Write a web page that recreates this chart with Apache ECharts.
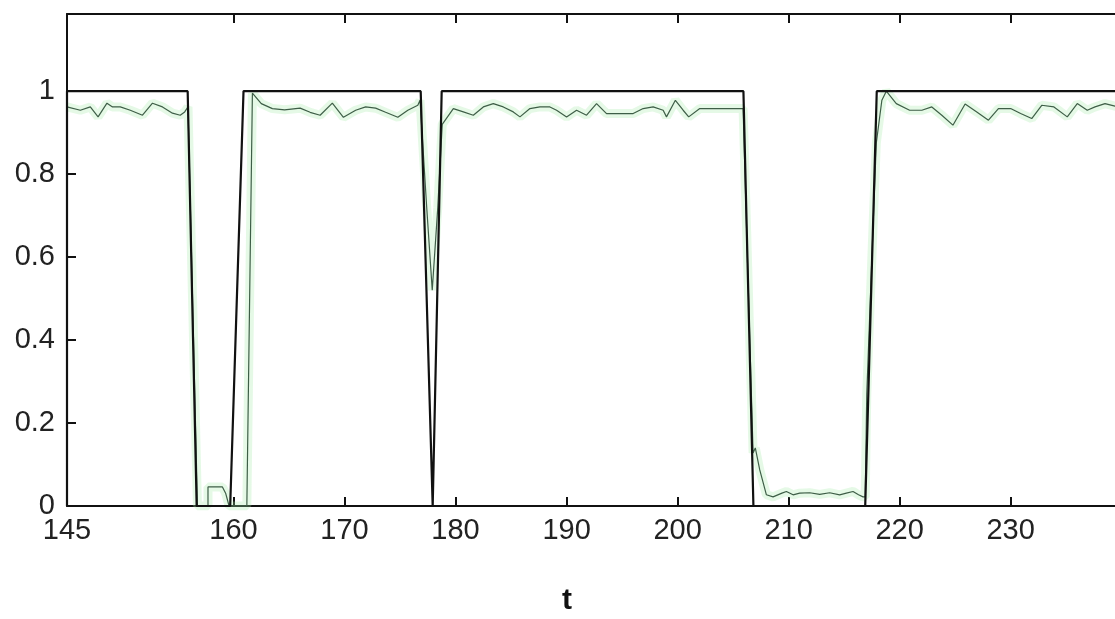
<!DOCTYPE html>
<html>
<head>
<meta charset="utf-8">
<script src="https://cdn.jsdelivr.net/npm/echarts@6/dist/echarts.min.js"></script>
<style>
html,body{margin:0;padding:0;background:#fff;}
#chart{width:1115px;height:619px;}
</style>
</head>
<body>
<div id="chart"></div>
<script>
// ---- data ----
const blackT = [145, 145, 155.87, 156.68, 159.7, 160.9, 176.86, 177.94, 178.0, 178.75, 205.93, 206.83, 216.9, 217.94, 240];
const blackV = [0, 1, 1, 0, 0, 1, 1, 0, 0, 1, 1, 0, 0, 1, 1];

const greenT = [145.0,146.2,147.1,147.8,148.6,149.1,149.8,150.7,151.8,152.7,153.6,154.5,155.2,155.6,155.9,
  156.75,157.7,157.7,159.0,159.3,159.6,161.2,161.7,162.5,163.5,164.6,166.0,166.9,167.8,168.9,169.9,171.0,171.9,
  172.8,173.7,174.8,175.7,176.6,176.8,177.4,177.9,178.4,178.8,179.8,180.7,181.6,182.5,183.4,184.3,185.2,185.8,
  186.7,187.6,188.5,189.1,190.0,190.9,191.8,192.7,193.6,194.4,196.0,196.9,197.8,198.7,199.0,199.8,200.5,201.0,
  202.0,205.9,206.8,207.0,207.4,208.0,208.6,209.4,209.8,210.4,211.0,211.9,212.8,213.7,214.6,215.2,215.8,216.3,
  216.7,216.9,217.04,217.6,217.9,218.4,218.8,219.7,220.9,222.0,222.9,223.8,224.8,225.9,226.95,228.0,228.9,230.0,
  230.9,231.9,232.8,233.9,235.1,236.0,236.9,237.6,238.5,239.4,240.0];
const greenV = [0.962,0.954,0.962,0.938,0.971,0.962,0.962,0.954,0.942,0.971,0.962,0.947,0.942,0.950,0.962,
  0.0,0.0,0.046,0.046,0.03,0.0,0.0,0.995,0.97,0.958,0.955,0.959,0.949,0.942,0.971,0.937,0.954,0.962,
  0.959,0.949,0.937,0.954,0.966,0.978,0.72,0.52,0.72,0.92,0.958,0.950,0.942,0.962,0.970,0.962,0.950,0.938,
  0.958,0.962,0.962,0.954,0.938,0.954,0.942,0.970,0.946,0.946,0.946,0.958,0.962,0.954,0.938,0.978,0.954,0.938,
  0.958,0.958,0.128,0.14,0.087,0.027,0.022,0.031,0.035,0.027,0.031,0.032,0.028,0.032,0.027,0.031,0.035,0.027,
  0.022,0.022,0.27,0.67,0.875,0.978,1.0,0.970,0.954,0.954,0.962,0.942,0.918,0.969,0.950,0.930,0.958,0.958,
  0.946,0.934,0.966,0.962,0.938,0.970,0.954,0.962,0.970,0.964,0.96];

const xTicks = [145, 160, 170, 180, 190, 200, 210, 220, 230];
const xLabels = [145, 160, 170, 180, 190, 200, 210, 220, 230];
const yTicks = [0, 0.2, 0.4, 0.6, 0.8, 1];
const xName = 't';

// ---- chart ----
const zip = (a, b) => a.map((v, i) => [v, b[i]]);
const blackData = zip(blackT, blackV);
const greenData = zip(greenT, greenV);

const font = 'Liberation Sans, Arial, sans-serif';
const axisLine = { show: true, onZero: false, lineStyle: { color: '#111', width: 2 } };
const tickStyle = { show: true, inside: true, length: 9, lineStyle: { color: '#111', width: 2 } };

const chart = echarts.init(document.getElementById('chart'), null, { renderer: 'canvas' });
chart.setOption({
  animation: false,
  backgroundColor: '#fff',
  grid: { left: 67, top: 14, right: 0, bottom: 113, show: false },
  xAxis: [
    {
      type: 'value', min: 145, max: 239.4, position: 'bottom',
      axisLine: axisLine,
      axisTick: Object.assign({}, tickStyle, { customValues: xTicks }),
      axisLabel: { customValues: xLabels, color: '#222', fontSize: 29, fontFamily: font, margin: 10 },
      splitLine: { show: false }
    },
    {
      type: 'value', min: 145, max: 239.4, position: 'top',
      axisLine: axisLine,
      axisTick: Object.assign({}, tickStyle, { customValues: xTicks }),
      axisLabel: { show: false },
      splitLine: { show: false }
    }
  ],
  yAxis: [
    {
      type: 'value', min: 0, max: 1.186, position: 'left',
      axisLine: axisLine,
      axisTick: Object.assign({}, tickStyle, { customValues: yTicks }),
      axisLabel: { customValues: yTicks, color: '#222', fontSize: 29, fontFamily: font, margin: 12 },
      splitLine: { show: false }
    }
  ],
  graphic: [
    { type: 'text', left: 562, top: 586,
      style: { text: xName, fontSize: 30, fontWeight: 'bold', fontFamily: font, fill: '#111' } }
  ],
  series: [
    { type: 'line', data: greenData, showSymbol: false, silent: true, clip: true,
      lineStyle: { color: 'rgba(160,235,165,0.28)', width: 9 }, z: 1 },
    { type: 'line', data: greenData, showSymbol: false, clip: true,
      lineStyle: { color: '#3e5e47', width: 1.2 }, z: 2 },
    { type: 'line', data: blackData, showSymbol: false, clip: true,
      lineStyle: { color: '#111', width: 2.2 }, z: 3 }
  ]
});
</script>
</body>
</html>
